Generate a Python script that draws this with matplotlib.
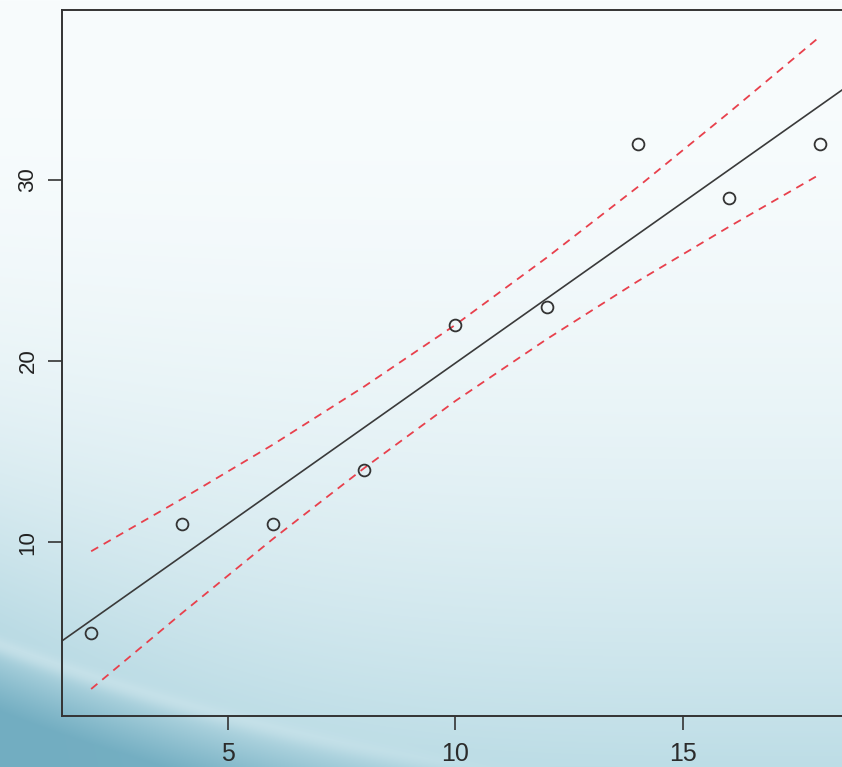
import numpy as np
import matplotlib
matplotlib.use("Agg")
import matplotlib.pyplot as plt

# ---- data ----
x_vals = [2, 4, 6, 8, 10, 12, 14, 16, 18]
y_vals = [5, 11, 11, 14, 22, 23, 32, 29, 32]
upper_band = [9.5, 12.4, 15.4, 18.6, 22.0, 25.7, 29.6, 33.7, 37.9]
lower_band = [1.9, 6.1, 10.2, 14.1, 17.8, 21.2, 24.4, 27.4, 30.3]
fit_intercept = 2.14
fit_slope = 1.775
x_ticks = [5, 10, 15]
y_ticks = [10, 20, 30]

W, H = 842, 767
fig = plt.figure(figsize=(W / 100, H / 100), dpi=100)

# ---- decorative background ----
yy, xx = np.mgrid[0:H, 0:W]
u = xx / W
v = yy / H
top = np.array([0xF8, 0xFC, 0xFD]) / 255
bot = np.array([0xBD, 0xDD, 0xE6]) / 255
t = np.clip(v, 0, 1) ** 2.2
img = top[None, None, :] * (1 - t[..., None]) + bot[None, None, :] * t[..., None]
# left-edge bluish shading toward the bottom
left_col = np.array([0x98, 0xC8, 0xD6]) / 255
s = np.clip((1 - u) ** 4 * v ** 4, 0, 1) * 0.9
img = img * (1 - s[..., None]) + left_col[None, None, :] * s[..., None]
# darker swoosh at the bottom-left
curve = 0.838 + 0.4036 * u - 0.21 * u ** 2
dark = np.array([0x72, 0xAD, 0xC1]) / 255
d = np.clip((v - curve) / 0.09, 0, 1) * np.clip(1 - u * 0.9, 0, 1) ** 0.25
img = img * (1 - d[..., None]) + dark[None, None, :] * d[..., None]
# light streak along the swoosh edge
streak = np.exp(-((v - curve - 0.004) / 0.012) ** 2) * np.clip(1 - u * 1.2, 0, 1) * 0.2
img = img * (1 - streak[..., None]) + np.ones(3)[None, None, :] * streak[..., None]

bg = fig.add_axes([0, 0, 1, 1])
bg.imshow(np.clip(img, 0, 1), aspect="auto", extent=[0, 1, 0, 1], origin="upper")
bg.set_axis_off()

# ---- main axes ----
left_px, right_px, top_px, bottom_px = 62, 849, 10, 716
ax = fig.add_axes([left_px / W, (H - bottom_px) / H,
                   (right_px - left_px) / W, (bottom_px - top_px) / H])
ax.patch.set_alpha(0)
ax.set_xlim(1.36, 18.64)
ax.set_ylim(0.41, 39.37)

dark_col = "#333333"
ax.axline((0, fit_intercept), slope=fit_slope, color="#3a3a3a", lw=1.2, zorder=2)
ax.plot(x_vals, upper_band, color="#e8404c", lw=1.3, dashes=(4.5, 3.5), zorder=2)
ax.plot(x_vals, lower_band, color="#e8404c", lw=1.3, dashes=(4.5, 3.5), zorder=2)
ax.plot(x_vals, y_vals, linestyle="none", marker="o", markersize=8.5,
        markerfacecolor="none", markeredgecolor=dark_col, markeredgewidth=1.3, zorder=3)

for sp in ax.spines.values():
    sp.set_color(dark_col)
    sp.set_linewidth(1.4)

ax.set_xticks(x_ticks)
ax.set_yticks(y_ticks)
ax.tick_params(axis="both", length=10, width=1.2, color=dark_col, direction="out")
ax.tick_params(axis="x", pad=9)
ax.tick_params(axis="y", pad=7)
ax.set_xticklabels([str(t_) for t_ in x_ticks],
                   fontdict={"family": ["Liberation Sans Narrow", "Liberation Sans", "DejaVu Sans"],
                             "size": 18, "color": "#2b2b2b"})
ax.set_yticklabels([str(t_) for t_ in y_ticks],
                   fontdict={"family": ["Liberation Sans", "DejaVu Sans"],
                             "size": 16, "color": "#222222", "weight": "medium"},
                   rotation=90, va="center")

fig.savefig("out.png", dpi=100)
